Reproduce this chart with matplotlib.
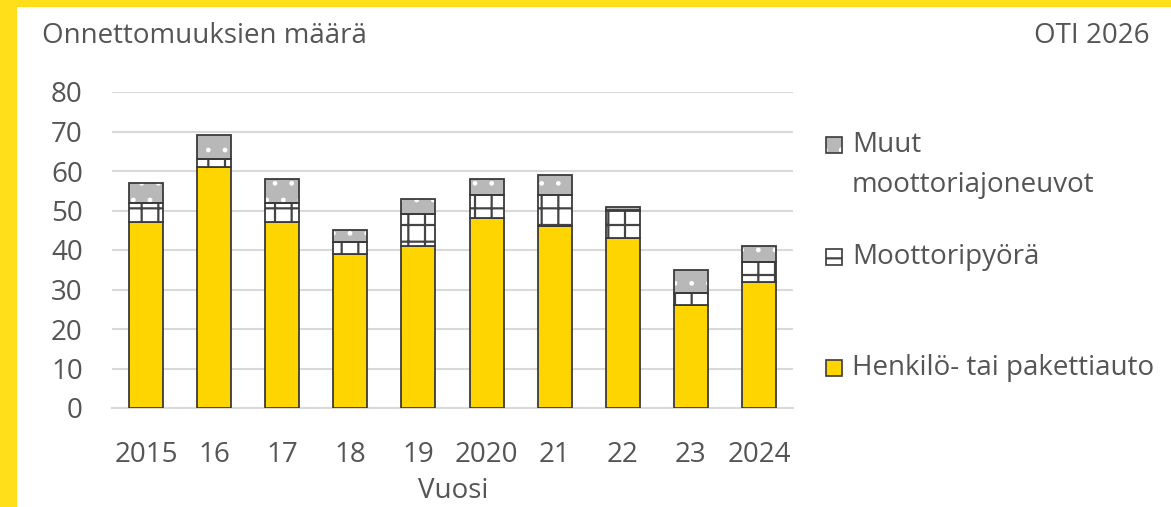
import matplotlib
matplotlib.use("Agg")
import matplotlib.pyplot as plt
from matplotlib.patches import Rectangle
import numpy as np

# Accident counts by vehicle type
years = ["2015", "16", "17", "18", "19", "2020", "21", "22", "23", "2024"]
car_van = [47, 61, 47, 39, 41, 48, 46, 43, 26, 32]
motorcycle = [5, 2, 5, 3, 8, 6, 8, 7, 3, 5]
other_motor = [5, 6, 6, 3, 4, 4, 5, 1, 6, 4]

labels = ["Henkilö- tai pakettiauto", "Moottoripyörä", "Muut\nmoottoriajoneuvot"]

W, H = 1171, 507
TEXT = "#555555"
EDGE = "#3a3a3a"
YELLOW = "#FFD500"
FRAME = "#FFDE1A"
GREY = "#b8b8b8"

plt.rcParams["font.family"] = ["Open Sans", "DejaVu Sans"]
plt.rcParams["hatch.linewidth"] = 1.6
FS = 20

fig = plt.figure(figsize=(W / 100, H / 100), dpi=100)
fig.patch.set_facecolor("white")


def fx(px):
    return px / W


def fy(py):
    return 1 - py / H


ax = fig.add_axes([fx(112), fy(408), fx(793) - fx(112), fy(92) - fy(408)])

x = np.arange(len(years))
width = 0.5
car = np.array(car_van)
moto = np.array(motorcycle)
other = np.array(other_motor)

# Cars and vans
ax.bar(x, car, width, color=YELLOW, edgecolor=EDGE, linewidth=1.3, zorder=3)

# Motorcycles: white with dark grid hatch, then outline
ax.bar(x, moto, width, bottom=car, color="white", edgecolor="#444444",
       hatch="+", linewidth=0, zorder=3)
ax.bar(x, moto, width, bottom=car, color="none", edgecolor=EDGE,
       linewidth=1.3, zorder=4)

# Other motor vehicles: grey with white dots, then outline
with plt.rc_context({"hatch.linewidth": 1.0}):
    ax.bar(x, other, width, bottom=car + moto, color=GREY, edgecolor="white",
           hatch=".", linewidth=0, zorder=3)
ax.bar(x, other, width, bottom=car + moto, color="none", edgecolor=EDGE,
       linewidth=1.3, zorder=4)

ax.set_xlim(-0.5, len(years) - 0.5)
ax.set_ylim(0, 80)
ax.set_yticks(np.arange(0, 81, 10))
ax.set_xticks(x)
ax.set_xticklabels(years)
ax.yaxis.grid(True, color="#d9d9d9", linewidth=1.5, zorder=0)
ax.set_axisbelow(True)
for s in ["top", "right", "left"]:
    ax.spines[s].set_visible(False)
ax.spines["bottom"].set_color("#d9d9d9")
ax.spines["bottom"].set_linewidth(1.5)
ax.tick_params(axis="both", length=0, labelsize=FS, labelcolor=TEXT)
ax.tick_params(axis="y", pad=21)
ax.tick_params(axis="x", pad=24)

fig.text(fx(453), fy(491), "Vuosi", ha="center", va="center",
         fontsize=FS, color=TEXT)
fig.text(fx(42), fy(36), "Onnettomuuksien määrä", ha="left", va="center",
         fontsize=FS, color=TEXT)
fig.text(fx(1150), fy(36), "OTI 2026", ha="right", va="center",
         fontsize=FS, color=TEXT)

# Legend drawn as small swatches with labels
sq = 16
legend_items = [
    (145, GREY, "white", ".", labels[2]),
    (257, "white", "#444444", "-", labels[1]),
    (368, YELLOW, None, None, labels[0]),
]
for cy, face, hcol, hatch, text in legend_items:
    x0, y0 = 826, cy - sq / 2
    if hatch:
        fig.add_artist(Rectangle((fx(x0), fy(y0 + sq)), fx(sq), fy(0) - fy(sq),
                                 transform=fig.transFigure, facecolor=face,
                                 edgecolor=hcol, hatch=hatch, linewidth=0))
        fig.add_artist(Rectangle((fx(x0), fy(y0 + sq)), fx(sq), fy(0) - fy(sq),
                                 transform=fig.transFigure, facecolor="none",
                                 edgecolor=EDGE, linewidth=1.2))
    else:
        fig.add_artist(Rectangle((fx(x0), fy(y0 + sq)), fx(sq), fy(0) - fy(sq),
                                 transform=fig.transFigure, facecolor=face,
                                 edgecolor=EDGE, linewidth=1.2))
    if "\n" in text:
        first, second = text.split("\n")
        fig.text(fx(852), fy(cy), first, ha="left", va="center",
                 fontsize=FS, color=TEXT)
        fig.text(fx(852), fy(cy + 40), second, ha="left", va="center",
                 fontsize=FS, color=TEXT)
    else:
        fig.text(fx(852), fy(cy), text, ha="left", va="center",
                 fontsize=FS, color=TEXT)

# Yellow frame along the top and left edges
fig.add_artist(Rectangle((0, 0), fx(17), 1, transform=fig.transFigure,
                         facecolor=FRAME, edgecolor="none"))
fig.add_artist(Rectangle((0, fy(7)), 1, fy(0) - fy(7), transform=fig.transFigure,
                         facecolor=FRAME, edgecolor="none"))

fig.savefig("out.png", dpi=100)
